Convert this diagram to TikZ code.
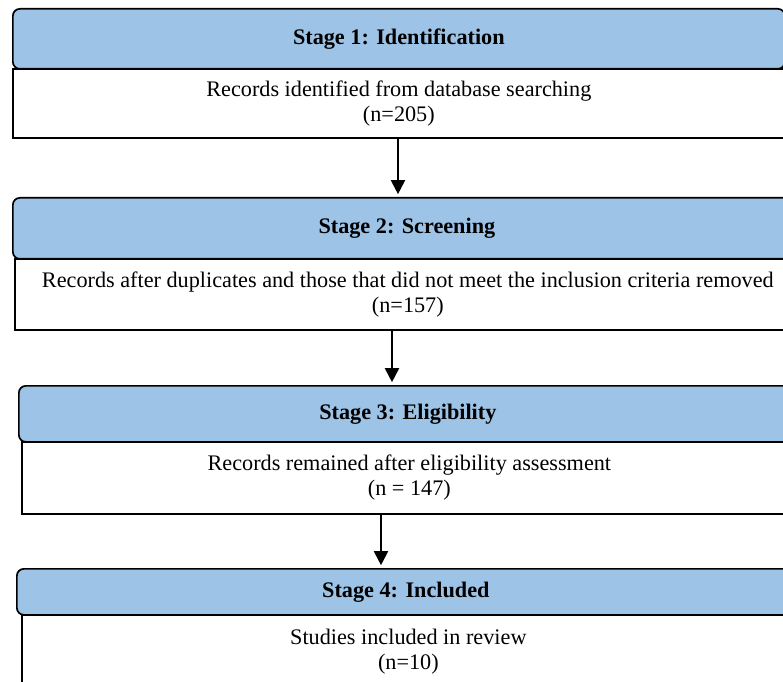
\documentclass[tikz,border=0pt]{standalone}
\usepackage{fontspec}
\setmainfont{Liberation Serif}
\usepackage{tikz}
\usetikzlibrary{arrows.meta}
\definecolor{stageblue}{RGB}{157,195,230}

\tikzset{
    stagehead/.style={draw, fill=stageblue, rounded corners=5pt, line width=1.2pt,
        inner sep=0pt, anchor=north west, font=\fontsize{15.8}{17.8}\selectfont\bfseries},
    stagebody/.style={draw, fill=white, line width=1.2pt, inner sep=0pt,
        anchor=north west, align=center, font=\fontsize{15.8}{17.8}\selectfont},
    stagearrow/.style={-{Triangle[length=10pt,width=10pt]}, line width=1.4pt, shorten >=2pt}
}

\begin{document}
\begin{tikzpicture}[x=0.025cm, y=-0.025cm]
    \useasboundingbox (0,0) rectangle (783,682);
    \foreach \n/\xh/\xb/\xr/\yt/\yh/\yb/\title/\body in {
        1/12/12/784/8/68/137/{Stage 1: Identification}/{Records identified from database searching\\(n=205)},
        2/12/14/800/197/258/329/{Stage 2: Screening}/{Records after duplicates and those that did not meet the inclusion criteria removed\\(n=157)},
        3/18/21/796/385/441/513/{Stage 3: Eligibility}/{Records remained after eligibility assessment\\(n = 147)},
        4/16/21/794/568/614/688/{Stage 4: Included}/{Studies included in review\\(n=10)}} {
        \pgfmathsetmacro\bw{(\xr-\xb)*0.025}
        \pgfmathsetmacro\bh{(\yb-\yh)*0.025}
        \pgfmathsetmacro\hw{(\xr-\xh)*0.025}
        \pgfmathsetmacro\hh{(\yh-\yt)*0.025}
        \node[stagebody, minimum width=\bw cm, minimum height=\bh cm] (b\n) at (\xb,\yh) {\body};
        \node[stagehead, minimum width=\hw cm, minimum height=\hh cm] (h\n) at (\xh,\yt) {\title};
    }
    \foreach \n/\m/\xa in {1/2/398, 2/3/392, 3/4/381} {
        \coordinate (a\n) at (\xa,0);
        \draw[stagearrow] (b\n.south -| a\n) -- (h\m.north -| a\n);
    }
\end{tikzpicture}
\end{document}
